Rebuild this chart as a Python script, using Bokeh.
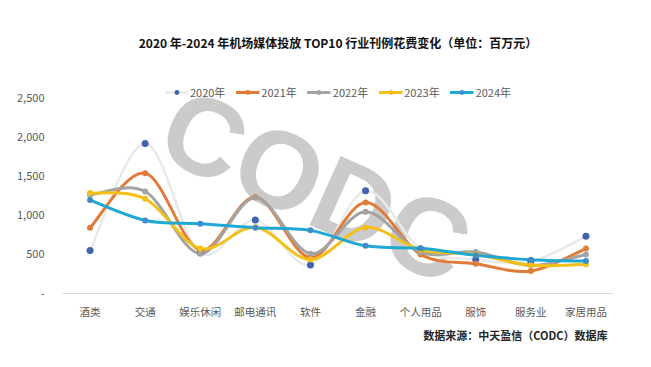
from bokeh.plotting import figure
from bokeh.models import (ColumnDataSource, FixedTicker, Legend, LegendItem, Title, Range1d)
from bokeh.core.properties import value
from bokeh.embed import file_html
from bokeh.resources import INLINE

categories = ["酒类", "交通", "娱乐休闲", "邮电通讯", "软件", "金融", "个人用品", "服饰", "服务业", "家居用品"]
years = ["2020年", "2021年", "2022年", "2023年", "2024年"]
v2020 = [550, 1920, 520, 940, 365, 1315, 570, 436, 410, 731]
v2021 = [840, 1540, 555, 1235, 460, 1165, 500, 380, 288, 575]
v2022 = [1260, 1305, 510, 1225, 510, 1045, 528, 530, 360, 500]
v2023 = [1285, 1212, 575, 848, 435, 845, 560, 500, 360, 375]
v2024 = [1195, 935, 893, 842, 808, 610, 578, 490, 432, 415]
y_ticks = [0, 500, 1000, 1500, 2000, 2500]
y_tick_labels = ["-", "500", "1,000", "1,500", "2,000", "2,500"]
source_text = "数据来源：中天盈信（CODC）数据库"
title_text = "2020 年-2024 年机场媒体投放 TOP10 行业刊例花费变化（单位：百万元）"

CJK = "Noto Sans CJK SC"
NAN = float("nan")

p = figure(width=635, height=351, output_backend="svg", toolbar_location=None,
           x_range=Range1d(-0.5, 9.5), y_range=Range1d(0, 2700),
           min_border_left=62, min_border_right=22, min_border_top=82, min_border_bottom=58)
p.outline_line_color = None
p.xgrid.visible = False
p.ygrid.visible = False
p.background_fill_color = "white"

# watermark
p.text(x=[4.1], y=[1380], text=["CODC"], angle=-0.42, text_align="center", text_baseline="middle",
       text_font=value("Liberation Sans"), text_font_style="bold", text_font_size="110px",
       text_color="#c8c8c8", text_alpha=0.95)

def smooth(vals):
    n = len(vals)
    xs = list(range(n))
    x0, y0, x1, y1, cx0, cy0, cx1, cy1 = [], [], [], [], [], [], [], []
    for i in range(n - 1):
        p0 = (xs[max(i - 1, 0)], vals[max(i - 1, 0)])
        p1 = (xs[i], vals[i])
        p2 = (xs[i + 1], vals[i + 1])
        p3 = (xs[min(i + 2, n - 1)], vals[min(i + 2, n - 1)])
        x0.append(p1[0]); y0.append(p1[1]); x1.append(p2[0]); y1.append(p2[1])
        cx0.append(p1[0] + (p2[0] - p0[0]) / 6); cy0.append(p1[1] + (p2[1] - p0[1]) / 6)
        cx1.append(p2[0] - (p3[0] - p1[0]) / 6); cy1.append(p2[1] - (p3[1] - p1[1]) / 6)
    return dict(x0=x0, y0=y0, x1=x1, y1=y1, cx0=cx0, cy0=cy0, cx1=cx1, cy1=cy1)

series = [v2020, v2021, v2022, v2023, v2024]
line_colors = ["#e9e9e9", "#e07b39", "#a3a3a3", "#f2c018", "#1fa8d4"]
marker_colors = ["#3f63ad", "#e07b39", "#a3a3a3", "#f2c018", "#3e8cc8"]
marker_sizes = [7, 6, 6, 6, 6]
xs = list(range(len(categories)))

items = []
for k, vals in enumerate(series):
    p.bezier(source=ColumnDataSource(smooth(vals)), x0="x0", y0="y0", x1="x1", y1="y1",
             cx0="cx0", cy0="cy0", cx1="cx1", cy1="cy1",
             line_color=line_colors[k], line_width=3 if k else 2.5)
for k, vals in enumerate(series):
    p.scatter(x=xs, y=vals, size=marker_sizes[k], fill_color=marker_colors[k], line_color=None)
    lr = p.line(x=[NAN], y=[NAN], line_color=line_colors[k], line_width=3 if k else 2.5)
    sr = p.scatter(x=[NAN], y=[NAN], size=marker_sizes[k] - 1, fill_color=marker_colors[k], line_color=None)
    items.append(LegendItem(label=years[k], renderers=[lr, sr]))

legend = Legend(items=items, location="top_center", orientation="horizontal",
                label_text_font=CJK, label_text_font_size="11px", label_text_color="#595959",
                glyph_width=24, glyph_height=12, spacing=10, label_standoff=2,
                padding=0, margin=2, background_fill_alpha=0, border_line_color=None,
                label_height=16)
p.add_layout(legend)

p.xaxis.ticker = FixedTicker(ticks=xs)
p.xaxis.major_label_overrides = {i: c for i, c in enumerate(categories)}
p.xaxis.axis_line_color = "#d9d9d9"
p.xaxis.major_tick_line_color = None
p.xaxis.minor_tick_line_color = None
p.xaxis.major_label_text_font = CJK
p.xaxis.major_label_text_font_size = "10.5px"
p.xaxis.major_label_text_color = "#595959"
p.xaxis.major_label_standoff = 4

p.yaxis.ticker = FixedTicker(ticks=y_ticks)
p.yaxis.major_label_overrides = {t: l for t, l in zip(y_ticks, y_tick_labels)}
p.yaxis.axis_line_color = None
p.yaxis.major_tick_line_color = None
p.yaxis.minor_tick_line_color = None
p.yaxis.major_label_text_font = CJK
p.yaxis.major_label_text_font_size = "11px"
p.yaxis.major_label_text_color = "#595959"
p.yaxis.major_label_standoff = 12

src = Title(text=source_text, align="right", text_font=CJK, text_font_size="11px",
            text_font_style="bold", text_color="#262626", standoff=6, offset=6)
p.add_layout(src, "below")

t = Title(text=title_text, align="center", text_font=CJK, text_font_size="12px",
          text_font_style="bold", text_color="#111111", standoff=63)
p.add_layout(t, "above")

open("out.html", "w").write(file_html(p, INLINE))
